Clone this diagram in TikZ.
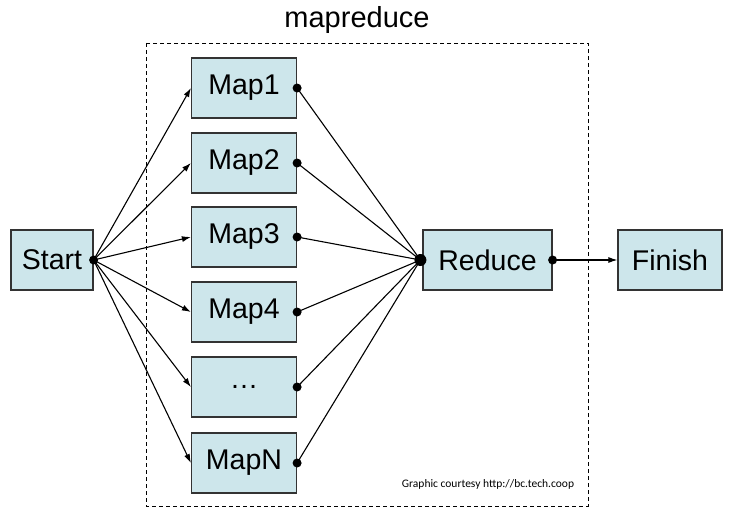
\documentclass[tikz,border=0pt]{standalone}
\usepackage{fontspec}
\setmainfont{Liberation Sans}
\newfontfamily\courtesyfont{Carlito}
\usetikzlibrary{arrows.meta}
\definecolor{boxfill}{RGB}{205,230,235}
\begin{document}
\begin{tikzpicture}[x=1pt,y=-1pt,
  procbox/.style={draw=black!80,line width=1.2pt,fill=boxfill,minimum width=105pt,minimum height=60pt,inner sep=0pt,font=\fontsize{28.5}{30}\selectfont},
  conn/.style={line width=1.1pt,-{Latex[length=9pt,width=6pt]}},
  plain/.style={line width=1.1pt},
  dotmark/.style={circle,fill=black,inner sep=0pt,minimum size=9pt}]
\useasboundingbox (0,0) rectangle (735,519);
\draw[line width=0.9pt,dash pattern=on 4pt off 3pt] (146,43) rectangle (588,506);
\node[font=\fontsize{29}{31}\selectfont] (title) at (357,20) {mapreduce};
\node[procbox,minimum width=82pt] (start) at (52,260) {Start};
\node[procbox] (m1) at (244,88) {Map1};
\node[procbox] (m2) at (244,163) {Map2};
\node[procbox] (m3) at (244,237) {Map3};
\node[procbox] (m4) at (244,312) {Map4};
\node[procbox] (m5) at (244,387) {\dots};
\node[procbox] (m6) at (244,463) {MapN};
\node[procbox,minimum width=129pt] (reduce) at (487.5,260) {Reduce};
\node[procbox,minimum width=104pt] (finish) at (670,260) {Finish};
\node[font=\courtesyfont\fontsize{11.5}{13}\selectfont] (credit) at (488,484) {Graphic courtesy http://bc.tech.coop};
\coordinate (sd) at (start.east);
\coordinate (rin) at ([xshift=-2pt]reduce.west);
\foreach \m in {m1,m2,m3,m4,m5,m6}{
  \draw[conn] (sd) -- (\m.west);
  \draw[plain] (\m.east) -- (rin);
  \node[dotmark] at (\m.east) {};
}
\node[dotmark] at (sd) {};
\node[dotmark,minimum size=12pt] at (rin) {};
\draw[conn] (reduce.east) -- (finish.west);
\node[dotmark] at (reduce.east) {};
\end{tikzpicture}
\end{document}
